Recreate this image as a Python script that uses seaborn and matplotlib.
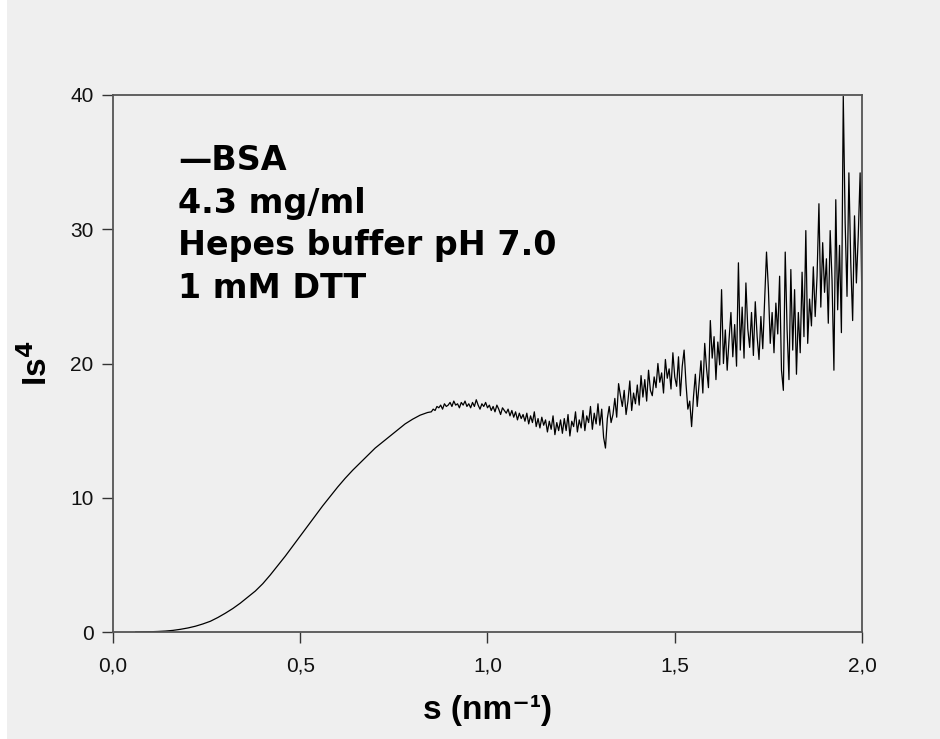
import numpy as np
import pandas as pd
import matplotlib
matplotlib.use("Agg")
import matplotlib.pyplot as plt
import seaborn as sns
from matplotlib.ticker import FuncFormatter

# ---- data ----
s_smooth = [0.06, 0.08, 0.10, 0.12, 0.14, 0.16, 0.18, 0.20, 0.22, 0.24,
            0.26, 0.28, 0.30, 0.32, 0.34, 0.36, 0.38, 0.40, 0.42, 0.44,
            0.46, 0.48, 0.50, 0.52, 0.54, 0.56, 0.58, 0.60, 0.62, 0.64,
            0.66, 0.68, 0.70, 0.72, 0.74, 0.76, 0.78, 0.80, 0.82, 0.84]
is4_smooth = [0.0, 0.01, 0.02, 0.04, 0.07, 0.12, 0.2, 0.3, 0.43, 0.6,
              0.8, 1.08, 1.4, 1.75, 2.15, 2.6, 3.05, 3.6, 4.25, 4.95,
              5.65, 6.4, 7.15, 7.9, 8.65, 9.4, 10.1, 10.8, 11.45, 12.05,
              12.6, 13.15, 13.7, 14.15, 14.6, 15.05, 15.5, 15.85, 16.15, 16.35]

# noisy region, s from 0.850 to 2.000 in steps of 0.005
s_noisy_start, s_noisy_step = 0.85, 0.005
is4_noisy = [
    16.4, 16.6, 16.5, 16.8, 16.7, 16.9, 16.6, 17.0, 16.8, 16.9,
    17.1, 16.8, 17.2, 16.9, 17.0, 16.7, 17.1, 16.9, 17.2, 16.8,
    17.0, 16.7, 17.1, 16.8, 17.3, 16.9, 16.6, 17.0, 16.8, 17.1,
    16.7, 16.9, 16.5, 16.8, 16.4, 16.9, 16.6, 16.2, 16.7, 16.5,
    16.3, 16.6, 16.1, 16.5, 16.0, 16.4, 15.8, 16.3, 15.9, 16.2,
    15.7, 16.3, 15.5, 16.1, 15.6, 16.4, 15.3, 15.9, 15.2, 16.0,
    15.4, 15.8, 14.9, 15.7, 15.1, 16.1, 14.7, 15.6, 15.0, 15.8,
    14.8, 15.9, 15.0, 16.2, 14.6, 15.7, 15.3, 16.4, 14.9, 15.8,
    15.2, 16.5, 15.0, 16.1, 15.6, 16.8, 15.1, 16.3, 15.5, 17.0,
    15.4, 16.6, 14.5, 13.7, 15.9, 16.8, 15.6, 16.2, 17.4, 16.0,
    18.5, 17.6, 16.8, 18.0, 16.2, 17.2, 18.7, 16.5, 17.8, 17.0,
    18.4, 16.9, 19.1, 17.5, 18.8, 17.2, 19.5, 18.0, 17.6, 19.0,
    18.2, 20.0, 18.6, 19.3, 17.8, 20.3, 18.9, 19.6, 18.1, 20.8,
    19.0, 18.3, 20.5, 17.6, 19.8, 21.0, 18.5, 16.6, 17.2, 15.3,
    17.5, 19.2, 16.8, 18.5, 20.2, 17.8, 21.5, 19.6, 18.2, 23.2,
    20.4, 22.0, 18.8, 21.6, 19.9, 25.5, 20.0, 22.5, 19.5, 21.8,
    23.8, 20.5, 22.9, 19.8, 27.5, 21.0, 24.2, 20.4, 26.0, 22.6,
    21.2, 23.8, 20.6, 24.6, 22.0, 20.3, 23.5, 21.1, 24.8, 28.3,
    25.6, 21.5, 23.8, 20.8, 24.5, 22.2, 26.5, 19.5, 18.0, 28.3,
    22.5, 18.8, 27.0, 21.0, 25.5, 19.2, 23.8, 20.8, 26.8, 22.0,
    29.9, 21.5, 24.8, 22.8, 27.2, 23.5, 26.5, 31.9, 24.2, 29.0,
    25.3, 27.8, 23.0, 29.9, 26.2, 19.5, 32.2, 24.0, 28.8, 22.3,
    39.9, 30.5, 25.0, 34.2, 27.5, 23.2, 31.0, 26.0, 29.5, 34.2,
    24.0,
]
s_noisy = [round(s_noisy_start + i * s_noisy_step, 3) for i in range(len(is4_noisy))]

x_ticks = [0.0, 0.5, 1.0, 1.5, 2.0]
y_ticks = [0, 10, 20, 30, 40]
annotation_lines = ["\u2014BSA", "4.3 mg/ml", "Hepes buffer pH 7.0", "1 mM DTT"]

df = pd.DataFrame({"s": s_smooth + s_noisy, "Is4": is4_smooth + is4_noisy})

# ---- style ----
bg = "#efefef"
sns.set_style("white", {"axes.facecolor": bg, "figure.facecolor": bg,
                        "axes.edgecolor": "#555555"})
plt.rcParams["font.family"] = ["Liberation Sans", "DejaVu Sans"]

fig = plt.figure(figsize=(9.40, 7.39), dpi=100)
fig.patch.set_facecolor(bg)
# thin white strip at the left edge of the screenshot
fig.patches.append(plt.Rectangle((0, 0), 7 / 940, 1, transform=fig.transFigure,
                                 facecolor="white", edgecolor="none", zorder=-1))
ax = fig.add_axes([113 / 940, 1 - 632 / 739, 749 / 940, 537 / 739])
ax.set_facecolor(bg)

sns.lineplot(data=df, x="s", y="Is4", ax=ax, color="black", linewidth=0.9,
             estimator=None, sort=False)

ax.set_xlim(0, 2.0)
ax.set_ylim(0, 40)
ax.set_xticks(x_ticks)
ax.set_yticks(y_ticks)
ax.xaxis.set_major_formatter(FuncFormatter(lambda v, p: f"{v:.1f}".replace(".", ",")))
ax.tick_params(axis="both", which="major", direction="out", length=8, width=1.0,
               color="#333333", labelsize=15, labelcolor="#111111",
               bottom=True, left=True, top=False, right=False, pad=6)
ax.tick_params(axis="x", pad=10)
for sp in ax.spines.values():
    sp.set_visible(True)
    sp.set_linewidth(1.3)
    sp.set_color("#555555")

ax.set_xlabel("s (nm\u207b\u00b9)", fontsize=24, fontweight="bold", color="black",
              family=["Liberation Sans", "DejaVu Sans"], labelpad=14)
ax.set_ylabel("Is$^{\\mathbf{4}}$", fontsize=24, fontweight="bold", color="black",
              family=["Liberation Sans", "DejaVu Sans"], labelpad=12)

y0 = 160
for i, line in enumerate(annotation_lines):
    fig.text(178 / 940, 1 - (y0 + 43 * i) / 739, line, fontsize=24, fontweight="bold",
             family=["DejaVu Sans"], va="center", ha="left", color="black")

fig.savefig("out.png", dpi=100, facecolor=bg)
